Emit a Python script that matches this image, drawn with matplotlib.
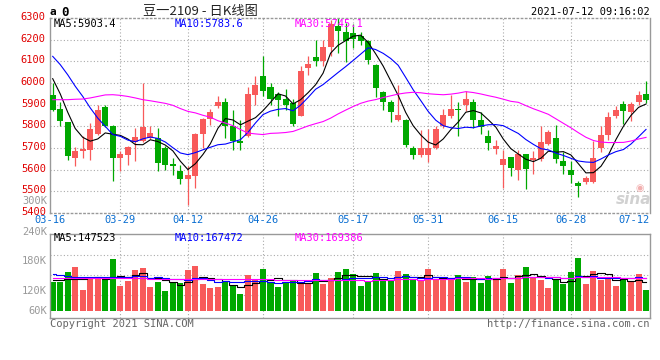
import matplotlib
matplotlib.use("Agg")
import matplotlib.pyplot as plt
import matplotlib.transforms as mtransforms
import numpy as np

# daily candles 2021-03-16 .. 2021-07-12 (open, high, low, close)
opens = [5946, 5882, 5818, 5654, 5685, 5692, 5766, 5888, 5803, 5654,
         5666, 5728, 5734, 5746, 5746, 5700, 5628, 5592, 5557, 5572,
         5766, 5835, 5892, 5912, 5800, 5734, 5754, 5946, 6031, 5983,
         5949, 5926, 5908, 5846, 6069, 6122, 6103, 6165, 6263, 6234,
         6231, 6215, 6195, 6085, 5958, 5912, 5831, 5831, 5700, 5669,
         5669, 5700, 5800, 5846, 5882, 5897, 5912, 5831, 5754, 5697,
         5620, 5657, 5597, 5672, 5643, 5651, 5720, 5746, 5638, 5600,
         5538, 5541, 5543, 5700, 5758, 5846, 5903, 5866, 5911, 5949]
highs = [6000, 5912, 5822, 5704, 5754, 5815, 5900, 5900, 5805, 5688,
         5708, 5792, 6000, 5800, 5792, 5708, 5654, 5623, 5615, 5769,
         5838, 5881, 5938, 5931, 5874, 5831, 5980, 6031, 6126, 6000,
         5958, 5974, 5926, 6077, 6123, 6200, 6200, 6290, 6300, 6278,
         6272, 6234, 6198, 6088, 5961, 5923, 5989, 5834, 5708, 5785,
         5789, 5800, 5880, 5946, 5912, 5961, 5928, 5866, 5785, 5738,
         5692, 5657, 5692, 5672, 5685, 5800, 5785, 5805, 5682, 5638,
         5549, 5572, 5734, 5800, 5866, 5892, 5918, 5912, 5961, 6011]
lows = [5869, 5803, 5643, 5615, 5654, 5643, 5762, 5795, 5546, 5592,
        5620, 5638, 5730, 5740, 5592, 5600, 5574, 5534, 5435, 5515,
        5700, 5808, 5884, 5746, 5692, 5692, 5750, 5900, 5938, 5900,
        5846, 5874, 5800, 5846, 6038, 6077, 6077, 6123, 6138, 6098,
        6162, 6175, 6089, 5934, 5877, 5820, 5826, 5703, 5649, 5657,
        5634, 5697, 5792, 5840, 5754, 5872, 5792, 5766, 5692, 5672,
        5515, 5569, 5554, 5512, 5580, 5638, 5715, 5631, 5580, 5538,
        5472, 5534, 5540, 5682, 5738, 5838, 5811, 5823, 5900, 5908]
closes = [5877, 5826, 5661, 5685, 5697, 5789, 5877, 5800, 5654, 5672,
          5705, 5749, 5795, 5769, 5631, 5623, 5615, 5557, 5577, 5766,
          5835, 5866, 5912, 5800, 5734, 5723, 5951, 5992, 5962, 5926,
          5920, 5900, 5811, 6057, 6088, 6103, 6168, 6272, 6240, 6195,
          6205, 6192, 6105, 5977, 5912, 5866, 5854, 5712, 5669, 5700,
          5700, 5789, 5851, 5882, 5877, 5926, 5828, 5797, 5723, 5708,
          5649, 5608, 5672, 5603, 5654, 5726, 5772, 5649, 5615, 5577,
          5523, 5562, 5654, 5762, 5842, 5877, 5869, 5903, 5946, 5920]
# volume (K)
volumes = [126, 126, 148, 160, 107, 134, 135, 130, 178, 116,
           128, 153, 158, 114, 126, 105, 125, 123, 153, 162,
           122, 113, 114, 126, 117, 98, 142, 132, 155, 126,
           114, 126, 130, 126, 121, 146, 121, 135, 148, 155,
           144, 116, 128, 146, 130, 128, 151, 144, 130, 130,
           155, 130, 130, 130, 142, 126, 136, 124, 139, 132,
           155, 124, 142, 160, 136, 130, 112, 130, 121, 148,
           180, 121, 151, 130, 132, 116, 130, 126, 144, 107]

# moving-average values before the window is full
ma5_head = [6020, 5950, 5865, 5790]
ma10_head = [6123, 6085, 6038, 5985, 5938, 5885, 5838, 5800, 5762]
ma30_head = [5923, 5923, 5923, 5925, 5926, 5931, 5938, 5945, 5946, 5943,
             5938, 5931, 5923, 5918, 5912, 5906, 5897, 5882, 5869, 5862,
             5851, 5842, 5826, 5815, 5803, 5785, 5769, 5765, 5762]
vma5_head = [131, 131, 132, 133]
vma10_head = [144, 141, 139, 138, 137, 137, 136, 136, 136]
vma30_head = [134] * 13 + [133] * 9 + [132] * 7

date_labels = ["03-16", "03-29", "04-12", "04-26", "05-17", "05-31", "06-15", "06-28", "07-12"]
date_idx = [0, 9, 18, 28, 40, 50, 60, 69, 79]
price_ticks = [5400, 5500, 5600, 5700, 5800, 5900, 6000, 6100, 6200, 6300]
vol_labels = ["240K", "180K", "120K", "60K"]


def moving_avg(vals, n, head):
    out = list(head)
    for i in range(n - 1, len(vals)):
        out.append(sum(vals[i - n + 1:i + 1]) / n)
    return out


RED = "#f85a5a"
GREEN = "#00a800"
GRID = "#aaaaaa"
FRAME = "#999999"
MONO = "DejaVu Sans Mono"
W, H = 660, 360

fig = plt.figure(figsize=(6.6, 3.6), dpi=100)
fig.patch.set_facecolor("white")

ax = fig.add_axes([50 / W, 1 - 213 / H, 600 / W, 195 / H])
axv = fig.add_axes([50 / W, 1 - 318.3 / H, 600 / W, 84.3 / H])

x = np.arange(len(closes))
up = [c >= o for o, c in zip(opens, closes)]
colors = [RED if u else GREEN for u in up]

# candles
ax.vlines(x, lows, highs, colors=colors, linewidth=0.9, zorder=2)
bottoms = [min(o, c) for o, c in zip(opens, closes)]
heights = [max(abs(c - o), 4) for o, c in zip(opens, closes)]
ax.bar(x, heights, bottom=bottoms, width=0.8, color=colors, linewidth=0, zorder=3)

ax.plot(x, moving_avg(closes, 5, ma5_head), color="black", lw=0.8, zorder=4)
ax.plot(x, moving_avg(closes, 10, ma10_head), color="#0000ff", lw=0.8, zorder=4)
ax.plot(x, moving_avg(closes, 30, ma30_head), color="#ff00ff", lw=0.8, zorder=4)

xmin, xmax = -0.36, 79.53
ax.set_xlim(xmin, xmax)
ax.set_ylim(5400, 6300)
ax.set_yticks(price_ticks)
ax.set_yticklabels([str(p) for p in price_ticks], color="#e00000", fontfamily=MONO, fontsize=7.5)
ax.tick_params(axis="y", length=0, pad=3)
shift = mtransforms.ScaledTranslation(0, 2 / 100, fig.dpi_scale_trans)
for lab in ax.get_yticklabels():
    lab.set_transform(lab.get_transform() + shift)
ax.set_xticks([])
for p in price_ticks[1:-1]:
    ax.axhline(p, color=GRID, lw=0.8, ls=(0, (1, 2)), zorder=1)
for i in date_idx[1:-1]:
    ax.axvline(i, color=GRID, lw=0.8, ls=(0, (1, 2)), zorder=1)
for s in ["left", "right"]:
    ax.spines[s].set_color(FRAME)
    ax.spines[s].set_linewidth(1)
for s in ["top", "bottom"]:
    ax.spines[s].set_color(FRAME)
    ax.spines[s].set_linestyle((0, (1, 2)))
    ax.spines[s].set_linewidth(1)

# date labels
for i, lab in zip(date_idx, date_labels):
    ha = "center"
    xx = i
    if i == date_idx[0]:
        xx = xmin
    if i == date_idx[-1]:
        xx, ha = xmax, "right"
    ax.text(xx, -7 / 195, lab, transform=ax.get_xaxis_transform(), ha=ha, va="center",
            color="#0a6ed1", fontfamily=MONO, fontsize=7.5, clip_on=False)

fig.text(54 / W, 1 - 24 / H, "MA5:5903.4", color="black", fontfamily=MONO, fontsize=7.5, va="center")
fig.text(175 / W, 1 - 24 / H, "MA10:5783.6", color="#0000ff", fontfamily=MONO, fontsize=7.5, va="center")
fig.text(295 / W, 1 - 24 / H, "MA30:5745.1", color="#ff00ff", fontfamily=MONO, fontsize=7.5, va="center")

# volume panel
vbase = 60
axv.bar(x, [v - vbase for v in volumes], bottom=vbase, width=0.8, color=colors, linewidth=0, zorder=2)
axv.plot(x, moving_avg(volumes, 5, vma5_head), color="black", lw=0.8, drawstyle="steps-mid", zorder=3)
axv.plot(x, moving_avg(volumes, 10, vma10_head), color="#0000ff", lw=0.8, drawstyle="steps-mid", zorder=3)
axv.plot(x, moving_avg(volumes, 30, vma30_head), color="#ff00ff", lw=0.8, drawstyle="steps-mid", zorder=3)
axv.set_xlim(xmin, xmax)
axv.set_ylim(42.6, 235.4)
axv.set_xticks([])
axv.set_yticks([])
for g in [187.4, 141.7, 95.9]:
    axv.axhline(g, color=GRID, lw=0.8, ls=(0, (1, 2)), zorder=1)
for i in date_idx[1:-1]:
    axv.axvline(i, color=GRID, lw=0.8, ls=(0, (1, 2)), zorder=1)
for s in axv.spines.values():
    s.set_color(FRAME)
    s.set_linewidth(1)

for lab, yy in zip(vol_labels, [232, 261, 291, 311]):
    fig.text(47 / W, 1 - yy / H, lab, color="#999999", fontfamily=MONO, fontsize=7.5, ha="right", va="center")
fig.text(47 / W, 1 - 201 / H, "300K", color="#999999", fontfamily=MONO, fontsize=7.5, ha="right", va="center")

fig.text(54 / W, 1 - 238 / H, "MA5:147523", color="black", fontfamily=MONO, fontsize=7.5, va="center")
fig.text(175 / W, 1 - 238 / H, "MA10:167472", color="#0000ff", fontfamily=MONO, fontsize=7.5, va="center")
fig.text(295 / W, 1 - 238 / H, "MA30:169386", color="#ff00ff", fontfamily=MONO, fontsize=7.5, va="center")

# header
fig.text(49 / W, 1 - 12 / H, "a", color="black", fontfamily=MONO, fontsize=8, fontweight="bold", va="center")
fig.text(61 / W, 1 - 12 / H, "0", color="black", fontfamily=MONO, fontsize=9, fontweight="bold", va="center")
fig.text(200 / W, 1 - 12 / H, "豆一2109 - 日K线图", color="#222222",
         fontfamily=["Noto Sans CJK SC", "DejaVu Sans"], fontsize=9.5, ha="center", va="center")
fig.text(650 / W, 1 - 12 / H, "2021-07-12 09:16:02", color="black", fontfamily=MONO, fontsize=7.5,
         ha="right", va="center")

# footer
fig.text(50 / W, 1 - 324 / H, "Copyright 2021 SINA.COM", color="#666666", fontfamily=MONO, fontsize=7.5, va="center")
fig.text(650 / W, 1 - 324 / H, "http://finance.sina.com.cn", color="#666666", fontfamily=MONO, fontsize=7.5,
         ha="right", va="center")

# watermark
fig.text(634 / W, 1 - 200 / H, "sina", color="#cccccc", fontsize=11, fontweight="bold", fontstyle="italic",
         ha="center", va="center", alpha=0.9)
fig.text(640 / W, 1 - 188 / H, "◉", color="#f2b0b0", fontsize=7, ha="center", va="center")

fig.savefig("out.png", dpi=100, facecolor="white")
